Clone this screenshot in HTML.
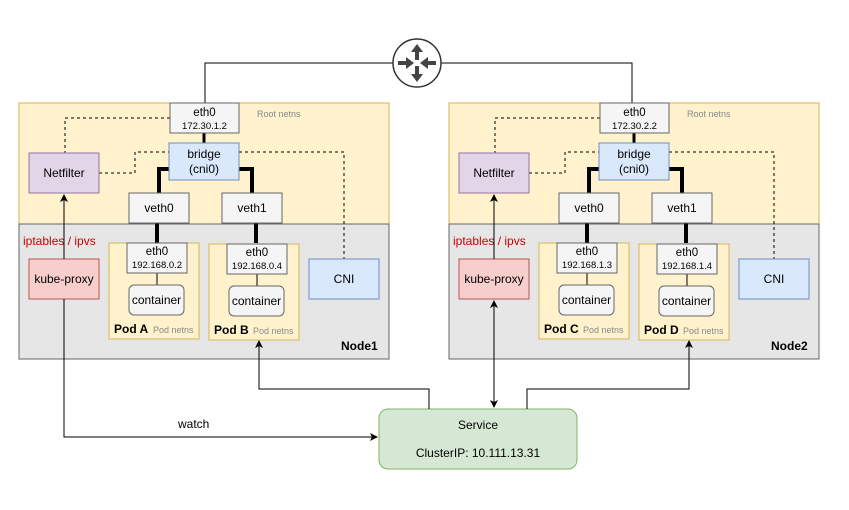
<!DOCTYPE html>
<html><head><style>body{margin:0;background:#fff}svg{display:block;font-family:"Liberation Sans",sans-serif}</style></head><body>
<svg width="849" height="510" viewBox="0 0 849 510" xmlns="http://www.w3.org/2000/svg">
<defs>
<marker id="a" markerWidth="8" markerHeight="8" refX="7" refY="4" orient="auto" markerUnits="userSpaceOnUse"><path d="M0,0 L8,4 L0,8 L2,4 z" fill="#000"/></marker>
<g id="node">
<rect x="19" y="103" width="370" height="121" fill="#fff2cc" stroke="#d6b656"/>
<rect x="19" y="224" width="370" height="135" fill="#e6e6e6" stroke="#666"/>
<text x="257" y="117" font-size="9" fill="#888">Root netns</text>
<path d="M170,118 H65 V153" fill="none" stroke="#000" stroke-dasharray="3,3"/>
<path d="M99,173 H135 V152 H169" fill="none" stroke="#000" stroke-dasharray="3,3"/>
<path d="M239,152 H344 V259" fill="none" stroke="#000" stroke-dasharray="3,3"/>
<path d="M204,133 V143" stroke="#000" stroke-width="3"/>
<path d="M169,169 H159 V193 M239,169 H252 V193" fill="none" stroke="#000" stroke-width="4"/>
<path d="M157,223 V243 M256,223 V243" stroke="#000" stroke-width="4"/>
<rect x="170" y="103" width="69" height="30" fill="#f5f5f5" stroke="#666"/>
<text x="204.5" y="116" font-size="11.5" text-anchor="middle">eth0</text>
<rect x="169" y="143" width="70" height="37" fill="#dae8fc" stroke="#6c8ebf"/>
<text x="204" y="158" font-size="12" text-anchor="middle">bridge</text>
<text x="204" y="173" font-size="12" text-anchor="middle">(cni0)</text>
<rect x="29" y="153" width="70" height="40" fill="#e1d5e7" stroke="#9673a6"/>
<text x="64" y="177" font-size="12" text-anchor="middle">Netfilter</text>
<rect x="129" y="193" width="60" height="30" fill="#f5f5f5" stroke="#666"/>
<text x="159" y="212" font-size="12" text-anchor="middle">veth0</text>
<rect x="222" y="193" width="60" height="30" fill="#f5f5f5" stroke="#666"/>
<text x="252" y="212" font-size="12" text-anchor="middle">veth1</text>
<text x="23" y="245" font-size="12" fill="#c00">iptables / ipvs</text>
<rect x="29" y="259" width="70" height="40" fill="#f8cecc" stroke="#b85450"/>
<text x="64" y="283" font-size="12" text-anchor="middle">kube-proxy</text>
<rect x="309" y="259" width="70" height="40" fill="#dae8fc" stroke="#6c8ebf"/>
<text x="344" y="283" font-size="12" text-anchor="middle">CNI</text>
<path d="M64,259 V195" stroke="#000" marker-end="url(#a)"/>
</g>
<g id="pod">
<rect x="109" y="243" width="90" height="96" fill="#fff2cc" stroke="#d6b656"/>
<path d="M157,273 V285" stroke="#000"/>
<rect x="127" y="243" width="60" height="30" fill="#f5f5f5" stroke="#666"/>
<text x="157" y="255" font-size="11.5" text-anchor="middle">eth0</text>
<rect x="129" y="285" width="55" height="30" rx="5" fill="#f5f5f5" stroke="#666"/>
<text x="156.5" y="304" font-size="12" text-anchor="middle">container</text>
<text x="153" y="333" font-size="9" fill="#888">Pod netns</text>
</g>
</defs>
<path d="M205,103 V63 H632 V103" fill="none" stroke="#000"/>
<use href="#node"/>
<use href="#pod"/>
<use href="#pod" x="100" y="1"/>
<use href="#node" x="430"/>
<use href="#pod" x="430"/>
<use href="#pod" x="530" y="1"/>
<g font-size="9.5" text-anchor="middle">
<text x="204.5" y="129">172.30.1.2</text>
<text x="634.5" y="129">172.30.2.2</text>
<text x="157" y="268">192.168.0.2</text>
<text x="257" y="269">192.168.0.4</text>
<text x="587" y="268">192.168.1.3</text>
<text x="687" y="269">192.168.1.4</text>
</g>
<g font-size="12" font-weight="bold">
<text x="114" y="333">Pod A</text>
<text x="214" y="334">Pod B</text>
<text x="544" y="333">Pod C</text>
<text x="644" y="334">Pod D</text>
<text x="341" y="350">Node1</text>
<text x="771" y="350">Node2</text>
</g>
<circle cx="417" cy="63" r="24" fill="#fff" stroke="#333" stroke-width="1.5"/>
<g fill="#444">
<path d="M417,44 L411,52 H415 V60 H419 V52 H423 Z"/>
<path d="M417,82 L411,74 H415 V66 H419 V74 H423 Z"/>
<path d="M414,63 L406,57 V61 H398 V65 H406 V69 Z"/>
<path d="M420,63 L428,57 V61 H436 V65 H428 V69 Z"/>
</g>
<rect x="379" y="409" width="198" height="60" rx="9" fill="#d5e8d4" stroke="#82b366"/>
<text x="478" y="429" font-size="12" text-anchor="middle">Service</text>
<text x="478" y="457" font-size="12" text-anchor="middle">ClusterIP: 10.111.13.31</text>
<path d="M64,299 V437 H377" fill="none" stroke="#000" marker-end="url(#a)"/>
<text x="178" y="428" font-size="12">watch</text>
<path d="M429,409 V389 H259 V341" fill="none" stroke="#000" marker-end="url(#a)"/>
<path d="M527,409 V389 H689 V341" fill="none" stroke="#000" marker-end="url(#a)"/>
<path d="M494,370 V407" stroke="#000" marker-end="url(#a)"/>
<path d="M494,370 V301" stroke="#000" marker-end="url(#a)"/>
</svg>
</body></html>
